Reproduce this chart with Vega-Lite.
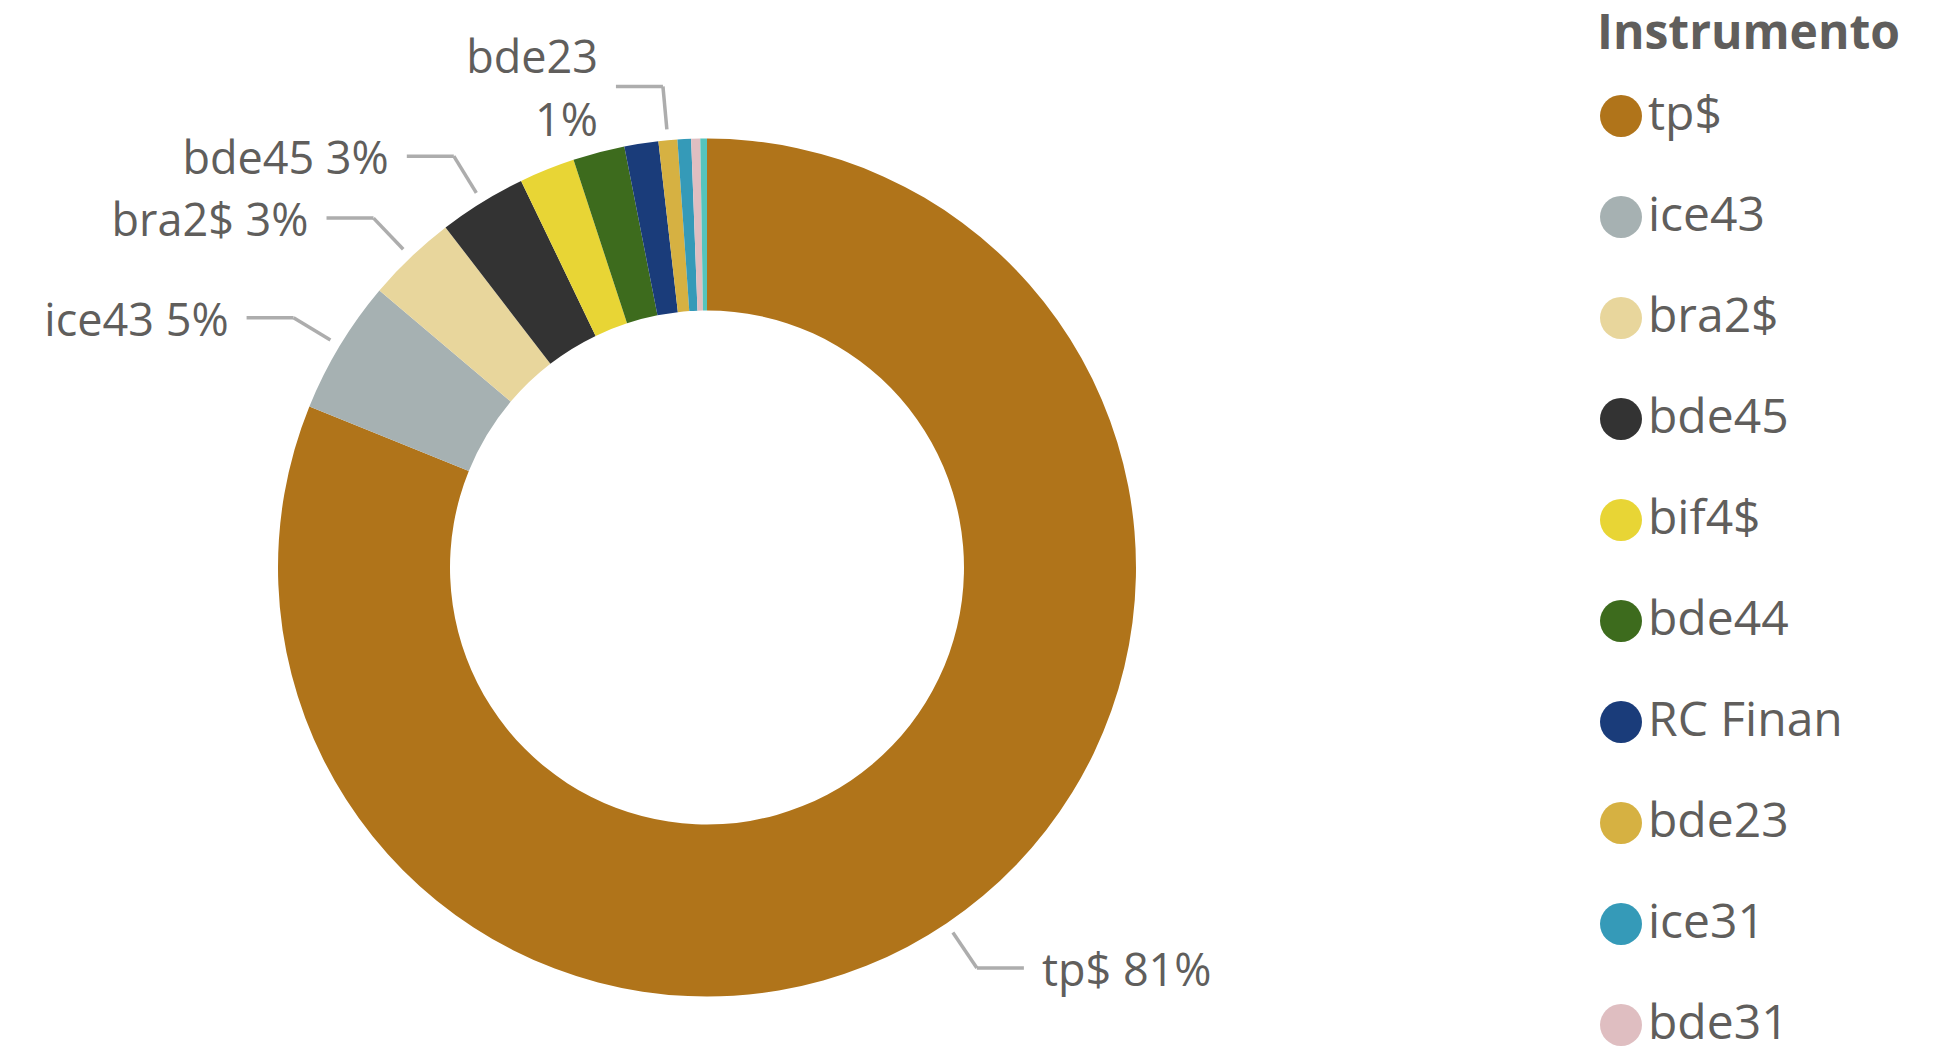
{
  "$schema": "https://vega.github.io/schema/vega-lite/v6.json",
  "width": 1414,
  "height": 961,
  "autosize": "none",
  "padding": {"left": 0, "top": 87, "right": 529, "bottom": 0},
  "background": "white",
  "config": {"view": {"stroke": null}},
  "data": {
    "values": [
      {"Instrumento": "tp$", "value": 81.2},
      {"Instrumento": "ice43", "value": 5.05},
      {"Instrumento": "bra2$", "value": 3.4},
      {"Instrumento": "bde45", "value": 3.3},
      {"Instrumento": "bif4$", "value": 2.1},
      {"Instrumento": "bde44", "value": 1.95},
      {"Instrumento": "RC Finan", "value": 1.28},
      {"Instrumento": "bde23", "value": 0.71},
      {"Instrumento": "ice31", "value": 0.51},
      {"Instrumento": "bde31", "value": 0.34},
      {"Instrumento": "Otros", "value": 0.25}
    ]
  },
  "transform": [
    {"joinaggregate": [{"op": "sum", "field": "value", "as": "total"}]},
    {"window": [{"op": "sum", "field": "value", "as": "cum"}], "sort": [{"field": "value", "order": "descending"}], "frame": [null, 0]},
    {"calculate": "2*PI*(datum.cum - datum.value/2)/datum.total", "as": "a"},
    {"calculate": "440*sin(datum.a)", "as": "x0"},
    {"calculate": "440*cos(datum.a)", "as": "y0"},
    {"calculate": "483*sin(datum.a)", "as": "x1"},
    {"calculate": "483*cos(datum.a)", "as": "y1"},
    {"calculate": "datum.x1 + (datum.x1 > 0 ? 47 : -47)", "as": "x2"},
    {"calculate": "datum.x1 + (datum.x1 > 0 ? 65 : -65)", "as": "xt"},
    {"calculate": "abs(sin(datum.a)) < 0.2", "as": "top"},
    {"calculate": "format(datum.value/datum.total, '.0%')", "as": "pct"},
    {"calculate": "datum.top ? [datum.Instrumento, datum.pct] : datum.Instrumento + ' ' + datum.pct", "as": "label"}
  ],
  "layer": [
    {
      "mark": {"type": "arc", "innerRadius": 257, "outerRadius": 429, "stroke": null},
      "encoding": {
        "theta": {"field": "value", "type": "quantitative", "stack": true},
        "order": {"field": "value", "type": "quantitative", "sort": "descending"},
        "color": {
          "field": "Instrumento",
          "type": "nominal",
          "scale": {
            "domain": ["tp$", "ice43", "bra2$", "bde45", "bif4$", "bde44", "RC Finan", "bde23", "ice31", "bde31", "Otros"],
            "range": ["#B0741A", "#A6B1B2", "#E8D69C", "#333333", "#E8D535", "#3D6B1D", "#1A3C7A", "#D6B142", "#359AB8", "#DFBEC1", "#55C4BD"]
          },
          "legend": {
            "orient": "none",
            "legendX": 1597,
            "legendY": -76,
            "title": "Instrumento",
            "titleFont": "Open Sans",
            "titleFontSize": 48,
            "titleFontWeight": "bold",
            "titleColor": "#605E5C",
            "titlePadding": 33,
            "titleLimit": 600,
            "labelFont": "Open Sans",
            "labelFontSize": 48,
            "labelColor": "#605E5C",
            "labelLimit": 600,
            "labelOffset": 3,
            "symbolType": "circle",
            "symbolSize": 1764,
            "symbolStrokeWidth": 0,
            "rowPadding": 53,
            "padding": 0,
            "values": ["tp$", "ice43", "bra2$", "bde45", "bif4$", "bde44", "RC Finan", "bde23", "ice31", "bde31"]
          }
        }
      }
    },
    {
      "transform": [{"filter": {"field": "Instrumento", "oneOf": ["tp$", "ice43", "bra2$", "bde45", "bde23"]}}],
      "mark": {"type": "rule", "color": "#ADADAD", "strokeWidth": 3.5},
      "encoding": {
        "x": {"field": "x0", "type": "quantitative", "scale": {"domain": [-707, 707], "nice": false, "zero": false}, "axis": null},
        "y": {"field": "y0", "type": "quantitative", "scale": {"domain": [-480.5, 480.5], "nice": false, "zero": false}, "axis": null},
        "x2": {"field": "x1"},
        "y2": {"field": "y1"}
      }
    },
    {
      "transform": [{"filter": {"field": "Instrumento", "oneOf": ["tp$", "ice43", "bra2$", "bde45", "bde23"]}}],
      "mark": {"type": "rule", "color": "#ADADAD", "strokeWidth": 3.5},
      "encoding": {
        "x": {"field": "x1", "type": "quantitative", "scale": {"domain": [-707, 707], "nice": false, "zero": false}, "axis": null},
        "y": {"field": "y1", "type": "quantitative", "scale": {"domain": [-480.5, 480.5], "nice": false, "zero": false}, "axis": null},
        "x2": {"field": "x2"}
      }
    },
    {
      "transform": [
        {"filter": {"field": "Instrumento", "oneOf": ["tp$", "ice43", "bra2$", "bde45", "bde23"]}},
        {"filter": "datum.x1 > 0 && !datum.top"}
      ],
      "mark": {"type": "text", "align": "left", "baseline": "middle", "dy": 4, "font": "Open Sans", "fontSize": 45, "color": "#605E5C"},
      "encoding": {
        "x": {"field": "xt", "type": "quantitative", "scale": {"domain": [-707, 707], "nice": false, "zero": false}, "axis": null},
        "y": {"field": "y1", "type": "quantitative", "scale": {"domain": [-480.5, 480.5], "nice": false, "zero": false}, "axis": null},
        "text": {"field": "label", "type": "nominal"}
      }
    },
    {
      "transform": [
        {"filter": {"field": "Instrumento", "oneOf": ["tp$", "ice43", "bra2$", "bde45", "bde23"]}},
        {"filter": "datum.x1 <= 0 && !datum.top"}
      ],
      "mark": {"type": "text", "align": "right", "baseline": "middle", "dy": 4, "font": "Open Sans", "fontSize": 45, "color": "#605E5C"},
      "encoding": {
        "x": {"field": "xt", "type": "quantitative", "scale": {"domain": [-707, 707], "nice": false, "zero": false}, "axis": null},
        "y": {"field": "y1", "type": "quantitative", "scale": {"domain": [-480.5, 480.5], "nice": false, "zero": false}, "axis": null},
        "text": {"field": "label", "type": "nominal"}
      }
    },
    {
      "transform": [
        {"filter": {"field": "Instrumento", "oneOf": ["tp$", "ice43", "bra2$", "bde45", "bde23"]}},
        {"filter": "datum.top"}
      ],
      "mark": {"type": "text", "align": "right", "baseline": "middle", "dy": -27.5, "font": "Open Sans", "fontSize": 45, "color": "#605E5C", "lineHeight": 63},
      "encoding": {
        "x": {"field": "xt", "type": "quantitative", "scale": {"domain": [-707, 707], "nice": false, "zero": false}, "axis": null},
        "y": {"field": "y1", "type": "quantitative", "scale": {"domain": [-480.5, 480.5], "nice": false, "zero": false}, "axis": null},
        "text": {"field": "label", "type": "nominal"}
      }
    }
  ]
}
